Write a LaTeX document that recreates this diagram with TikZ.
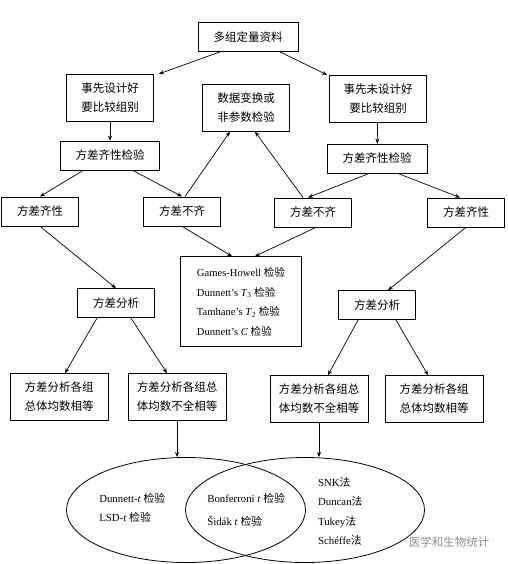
\documentclass[tikz,border=0pt]{standalone}
\usepackage{fontspec}
\setmainfont{Liberation Serif}
\newfontfamily\cjk{Noto Sans CJK SC}
\usetikzlibrary{arrows.meta, positioning, shapes.geometric}

\begin{document}
\begin{tikzpicture}[
    x=1pt, y=-1pt,
    box/.style={draw, line width=0.8pt, minimum height=29pt, inner sep=2pt, align=center, font=\cjk\fontsize{11.5}{19}\selectfont},
    tall/.style={box, minimum height=47pt},
    arr/.style={-{Stealth[length=5pt, width=4pt]}, line width=0.7pt},
    set/.style={draw, ellipse, line width=0.8pt, minimum width=239pt, minimum height=105pt, inner sep=0pt},
    list/.style={align=left, inner sep=0pt, font=\fontsize{10.8}{19.5}\selectfont},
  ]
    \useasboundingbox (0,0) rectangle (507,564);

    \node[box, minimum width=100pt] (data) at (248,37) {多组定量资料};
    \node[tall, minimum width=87pt, below=22pt of data, xshift=-138pt] (pre) {事先设计好\\要比较组别};
    \node[tall, minimum width=97pt, below=23pt of data, xshift=130pt] (post) {事先未设计好\\要比较组别};
    \node[tall, minimum width=87pt, below=32pt of data, xshift=-2pt] (trans) {数据变换或\\非参数检验};

    \node[box, minimum width=99pt, below=19pt of pre] (homoL) {方差齐性检验};
    \node[box, minimum width=100pt, below=21pt of post, xshift=-1pt] (homoR) {方差齐性检验};

    \node[box, minimum width=77pt, below=26pt of homoL, xshift=-70pt] (eqL) {方差齐性};
    \node[box, minimum width=77pt, below=26pt of homoL, xshift=72pt] (neqL) {方差不齐};
    \node[box, minimum width=77pt, below=24pt of homoR, xshift=-64pt] (neqR) {方差不齐};
    \node[box, minimum width=77pt, below=24pt of homoR, xshift=89pt] (eqR) {方差齐性};

    \node[box, minimum width=121pt, minimum height=90pt, align=left, font=\fontsize{10.6}{19.5}\selectfont,
      below=30pt of neqL, xshift=59pt] (multi) {Games-Howell {\cjk 检验}\\
      Dunnett's \textit{T}\textsubscript{3} {\cjk 检验}\\
      Tamhane's \textit{T}\textsubscript{2} {\cjk 检验}\\
      Dunnett's \textit{C} {\cjk 检验}};

    \node[box, minimum width=77pt, below=62pt of eqL, xshift=76pt] (anovaL) {方差分析};
    \node[box, minimum width=77pt, below=63pt of eqR, xshift=-89pt] (anovaR) {方差分析};

    \node[tall, minimum width=98pt, below=55pt of anovaL, xshift=-57pt] (sameL) {方差分析各组\\总体均数相等};
    \node[tall, minimum width=98pt, below=55pt of anovaL, xshift=61pt] (diffL) {方差分析各组总\\体均数不全相等};
    \node[tall, minimum width=98pt, below=55pt of anovaR, xshift=-58pt] (diffR) {方差分析各组总\\体均数不全相等};
    \node[tall, minimum width=98pt, below=55pt of anovaR, xshift=57pt] (sameR) {方差分析各组\\总体均数相等};

    % two overlapping sets of pairwise tests
    \node[set] (setL) at (186,510) {};
    \node[set] (setR) at (305,510) {};
    \node[list, right=33pt of setL.west, yshift=2pt] (testL) {Dunnett-\textit{t} {\cjk 检验}\\LSD-\textit{t} {\cjk 检验}};
    \node[list, font=\fontsize{10.8}{23}\selectfont, right=22pt of setR.west] (testM) {Bonferroni \textit{t} {\cjk 检验}\\Šidák \textit{t} {\cjk 检验}};
    \node[list, right=12pt of setL.east, yshift=-1.5pt] (testR) {SNK{\cjk 法}\\Duncan{\cjk 法}\\Tukey{\cjk 法}\\Schéffe{\cjk 法}};

    \node[text=black!45, font=\cjk\fontsize{11.5}{11.5}\selectfont] (mark) at (449,542) {医学和生物统计};

    \draw[arr] ([xshift=-28pt]data.south) -- ([xshift=5pt]pre.north east);
    \draw[arr] ([xshift=32pt]data.south) -- ([xshift=-2pt]post.north west);
    \draw[arr] (pre) -- (homoL);
    \draw[arr] (post) -- (homoR);
    \draw[arr] ([xshift=-27pt]homoL.south) -- (eqL.north);
    \draw[arr] ([xshift=23pt]homoL.south) -- (neqL.north);
    \draw[arr] ([xshift=-8pt]homoR.south) -- ([xshift=-5pt]neqR.north);
    \draw[arr] ([xshift=21pt]homoR.south) -- ([xshift=-6pt]eqR.north);
    \draw[arr] ([xshift=3pt]neqL.north) -- ([xshift=-16pt]trans.south);
    \draw[arr] ([xshift=-10pt]neqR.north) -- ([xshift=9pt]trans.south);
    \draw[arr] (neqL.south) -- ([xshift=-9pt]multi.north);
    \draw[arr] ([xshift=3pt]neqR.south) -- ([xshift=14pt]multi.north);
    \draw[arr] (eqL.south) -- (anovaL.north);
    \draw[arr] (eqR.south) -- ([xshift=11pt]anovaR.north);
    \draw[arr] ([xshift=-19pt]anovaL.south) -- ([xshift=6pt]sameL.north);
    \draw[arr] ([xshift=15pt]anovaL.south) -- ([xshift=-10pt]diffL.north);
    \draw[arr] ([xshift=-19pt]anovaR.south) -- ([xshift=9pt]diffR.north);
    \draw[arr] ([xshift=19pt]anovaR.south) -- ([xshift=-6pt]sameR.north);
    \draw[arr] (diffL.south) -- (diffL.south |- setL.north);
    \draw[arr] (diffR.south) -- (diffR.south |- setR.north);
  \end{tikzpicture}
\end{document}
